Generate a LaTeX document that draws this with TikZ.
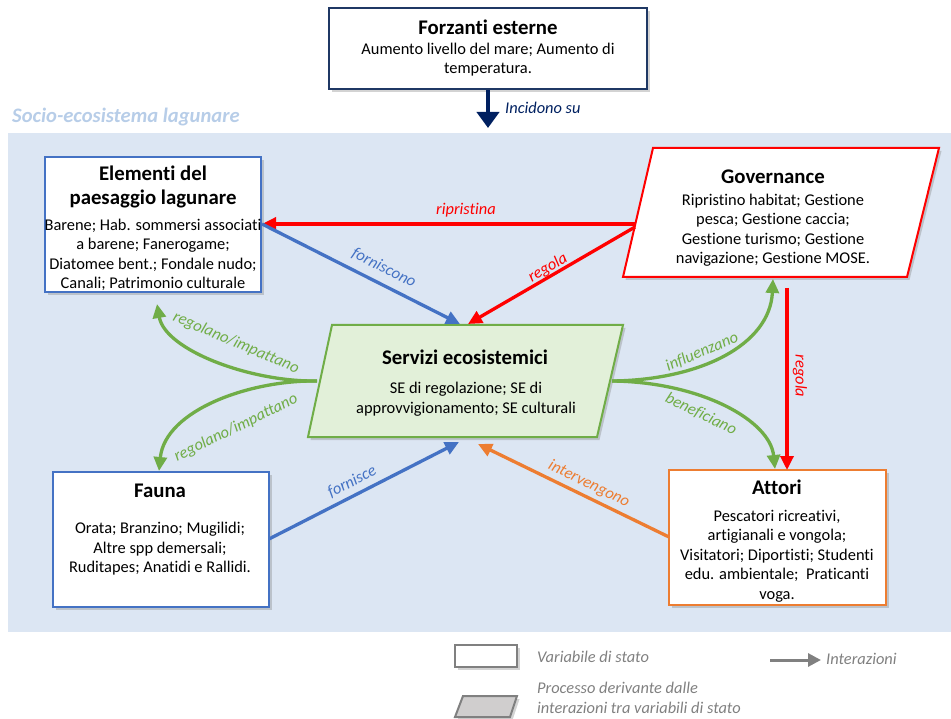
\documentclass[tikz,border=0pt]{standalone}
\usepackage{fontspec}
\setmainfont{Carlito}[RawFeature={-liga;-clig;-calt}]
\usetikzlibrary{arrows.meta,shadows}

\definecolor{cblue}{HTML}{4472C4}
\definecolor{cgreen}{HTML}{70AD47}
\definecolor{corange}{HTML}{ED7D31}
\definecolor{cred}{HTML}{FF0000}
\definecolor{cnavy}{HTML}{1F3864}
\definecolor{cnavyarrow}{HTML}{002060}
\definecolor{bgblue}{HTML}{DCE6F3}
\definecolor{titleblue}{HTML}{B7CDE8}
\definecolor{segreen}{HTML}{E2F0D9}
\definecolor{lgray}{HTML}{808080}
\definecolor{lgrayfill}{HTML}{D0CECE}

\tikzset{
  shade box/.style={drop shadow={opacity=0.35, shadow xshift=2.5pt, shadow yshift=-3pt}},
  statebox/.style={draw, fill=white, line width=2pt, shade box, inner sep=0pt},
  ttl/.style={font=\fontsize{20.8}{24}\selectfont\bfseries, align=center, inner sep=0pt},
  bdy/.style={font=\fontsize{16.4}{19.5}\selectfont, align=center, inner sep=0pt},
  lbl/.style={font=\fontsize{16.4}{19.5}\selectfont\itshape, inner sep=0pt},
  link/.style={line width=3.3pt, -{Triangle[length=14pt,width=13pt]}},
}

\begin{document}
\begin{tikzpicture}[x=1pt,y=-1pt]
\useasboundingbox (0,0) rectangle (951,719);

% lagoon socio-ecosystem area
\fill[bgblue] (8,133) rectangle (951,632);
\node[anchor=west, inner sep=0pt, text=titleblue,
      font=\fontsize{20.6}{24}\selectfont\bfseries\itshape] (area) at (12,117) {Socio-ecosistema lagunare};

% external drivers
\node[statebox, draw=cnavy, line width=2.4pt, minimum width=318pt, minimum height=81pt] (forz) at (488,48.5) {};
\node[ttl] (forz-t) at (488,27) {Forzanti esterne};
\node[bdy] (forz-txt) at (488,59.5) {Aumento livello del mare; Aumento di\\temperatura.};
\coordinate (incid-end) at (488,128);
\draw[cnavyarrow, line width=4.5pt, -{Triangle[length=16pt,width=22pt]}] (forz.south) -- (incid-end);
\node[lbl, text=cnavyarrow, anchor=west] (incid-l) at (505,108) {Incidono su};

% landscape elements
\node[statebox, draw=cblue, minimum width=216pt, minimum height=135pt] (elem) at (153,224.5) {};
\node[ttl] (elem-t) at (153,187) {Elementi del\\paesaggio lagunare};
\node[bdy] (elem-txt) at (153,255) {Barene; Hab. sommersi associati\\a barene; Fanerogame;\\Diatomee bent.; Fondale nudo;\\Canali; Patrimonio culturale};

% governance
\coordinate (gov-a) at (653,148);
\coordinate (gov-b) at (939,148);
\coordinate (gov-c) at (907,277);
\coordinate (gov-d) at (623,277);
\draw[draw=cred, fill=white, line width=2pt, shade box] (gov-a) -- (gov-b) -- (gov-c) -- (gov-d) -- cycle;
\node[ttl] (gov-t) at (773,177) {Governance};
\node[bdy] (gov-txt) at (773,230) {Ripristino habitat; Gestione\\pesca; Gestione caccia;\\Gestione turismo; Gestione\\navigazione; Gestione MOSE.};

% ecosystem services
\coordinate (se-a) at (332,325);
\coordinate (se-b) at (623,325);
\coordinate (se-c) at (597,437);
\coordinate (se-d) at (308,437);
\draw[draw=cgreen, fill=segreen, line width=2pt, shade box] (se-a) -- (se-b) -- (se-c) -- (se-d) -- cycle;
\node[ttl] (se-t) at (465,357) {Servizi ecosistemici};
\node[bdy] (se-txt) at (466,399) {SE di regolazione; SE di\\approvvigionamento; SE culturali};

% fauna
\node[statebox, draw=cblue, minimum width=216pt, minimum height=135pt] (fauna) at (161,539.5) {};
\node[ttl] (fauna-t) at (160,491) {Fauna};
\node[bdy] (fauna-txt) at (160,549) {Orata; Branzino; Mugilidi;\\Altre spp demersali;\\Ruditapes; Anatidi e Rallidi.};

% actors
\node[statebox, draw=corange, minimum width=217pt, minimum height=135pt] (att) at (777.5,537.5) {};
\node[ttl] (att-t) at (777,487) {Attori};
\node[bdy] (att-txt) at (777,556) {Pescatori ricreativi,\\artigianali e vongola;\\Visitatori; Diportisti; Studenti\\edu. ambientale;\ \ Praticanti\\voga.};

% connector end points
\coordinate (elem-e) at (262,224);
\coordinate (gov-w) at (635,224);
\coordinate (gov-w2) at (635,227);
\coordinate (se-n1) at (460,324);
\coordinate (se-n2) at (468,324);
\coordinate (se-s1) at (459,442);
\coordinate (se-s2) at (478,444);
\coordinate (se-e) at (612,381);
\coordinate (se-w) at (317,381);
\coordinate (gov-s) at (773,279);
\coordinate (gov-s2) at (787,288);
\coordinate (att-n) at (787,470);
\coordinate (att-n2) at (775,469);
\coordinate (elem-s) at (157,304);
\coordinate (fauna-n) at (159,471);
\coordinate (fauna-e) at (269,539);
\coordinate (att-w) at (669,537);

% interactions
\draw[link, cred] (gov-w) -- (elem-e);
\node[lbl, text=cred] (l-rip) at (466,210) {ripristina};

\draw[link, cblue] (elem-e) -- (se-n1);
\node[lbl, text=cblue, rotate=-26.5] (l-forn) at (384,268) {forniscono};

\draw[link, cred] (gov-w2) -- (se-n2);
\node[lbl, text=cred, rotate=30.5] (l-reg1) at (548,268) {regola};

\draw[link, cblue] (fauna-e) -- (se-s1);
\node[lbl, text=cblue, rotate=27] (l-fornisce) at (352,482) {fornisce};

\draw[link, corange] (att-w) -- (se-s2);
\node[lbl, text=corange, rotate=-26] (l-int) at (589,484) {intervengono};

\draw[link, cgreen] (se-e) .. controls (700,380) and (770,345) .. (gov-s);
\node[lbl, text=cgreen, rotate=23] (l-infl) at (702,352) {influenzano};

\draw[link, cgreen] (se-e) .. controls (700,382) and (770,420) .. (att-n2);
\node[lbl, text=cgreen, rotate=-26] (l-ben) at (701,414) {beneficiano};

\draw[link, cred] (gov-s2) -- (att-n);
\node[lbl, text=cred, rotate=-90] (l-reg2) at (800,376) {regola};

\draw[link, cgreen] (se-w) .. controls (250,382) and (165,350) .. (elem-s);
\node[lbl, text=cgreen, rotate=-23] (l-ri1) at (236,343) {regolano/impattano};

\draw[link, cgreen] (se-w) .. controls (250,380) and (165,410) .. (fauna-n);
\node[lbl, text=cgreen, rotate=26] (l-ri2) at (236,428) {regolano/impattano};

% legend
\node[draw=lgray, fill=white, line width=2pt, shade box, minimum width=62pt, minimum height=22pt, inner sep=0pt] (leg-state) at (486,656) {};
\node[lbl, text=lgray, anchor=west] (leg-state-t) at (537,657) {Variabile di stato};
\coordinate (leg-a) at (463,696);
\coordinate (leg-b) at (517,696);
\coordinate (leg-c) at (510,717);
\coordinate (leg-d) at (455,717);
\draw[draw=lgray, fill=lgrayfill, line width=2pt, shade box] (leg-a) -- (leg-b) -- (leg-c) -- (leg-d) -- cycle;
\node[lbl, text=lgray, anchor=west, align=left] (leg-proc-t) at (537,698) {Processo derivante dalle\\interazioni tra variabili di stato};
\coordinate (leg-arr-s) at (770,660);
\coordinate (leg-arr-e) at (821,660);
\draw[lgray, line width=3pt, -{Triangle[length=13pt,width=13pt]}] (leg-arr-s) -- (leg-arr-e);
\node[lbl, text=lgray, anchor=west] (leg-arr-t) at (826,659) {Interazioni};
\end{tikzpicture}
\end{document}
